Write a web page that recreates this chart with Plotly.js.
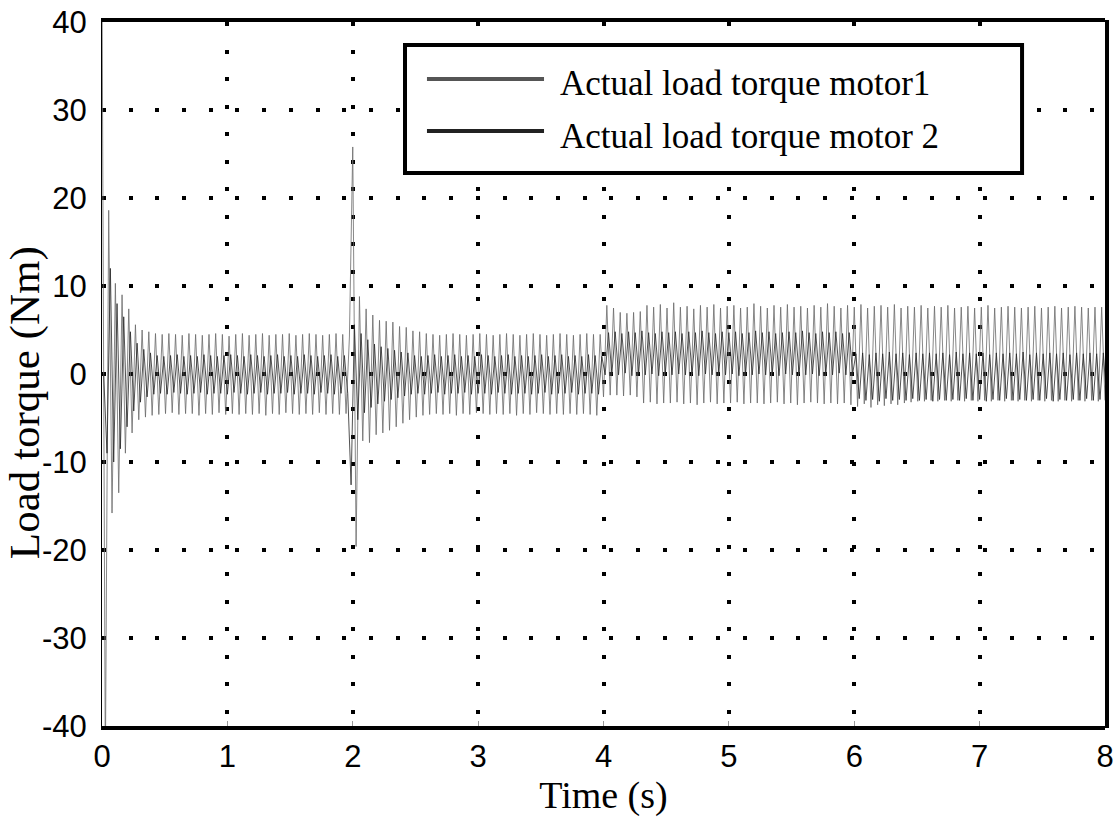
<!DOCTYPE html>
<html>
<head>
<meta charset="utf-8">
<script src="https://cdn.plot.ly/plotly-3.0.1.min.js"></script>
<style>html,body{margin:0;padding:0;background:#fff;}#chart{width:1117px;height:828px;}</style>
</head>
<body>
<div id="chart"></div>
<script>
// Sampling period of the recorded signals (s)
const sampleStep = 8 / 300;

// Actual load torque motor1 (Nm), one value per sample
const motor1 = [
  45, -45, 18.6, -15.8, 10.3, -13.5, 9.0, -9.0, 7.4, -6.7, 5.6, -5.2, 5.0, -4.9, 4.8, -4.7, 4.6, -4.6, 4.5, -4.5, 4.6, -4.4,
  4.5, -4.6, 4.4, -4.5, 4.6, -4.5, 4.5, -4.7, 4.4, -4.5, 4.5, -4.6,
  4.6, -4.4, 4.5, -4.6, 4.3, -4.5, 4.5, -4.6, 4.6, -4.5, 4.4, -4.6,
  4.5, -4.5, 4.6, -4.7, 4.4, -4.5, 4.5, -4.6, 4.5, -4.4, 4.6, -4.5,
  4.4, -4.6, 4.5, -4.5, 4.6, -4.6, 4.5, -4.4, 4.4, -4.6, 4.5, -4.5,
  4.6, -4.6, 4.5, -4.5, 4.2,
  25.8, -19.6, 8.8, -7.6, 7.4, -7.8, 6.7, -6.9, 6.1, -6.7, 6.0, -6.4, 5.9, -6.0, 5.4, -5.6, 5.3, -5.2, 4.9, -4.9, 4.8, -4.7, 4.6,
  -4.6, 4.5, -4.5, 4.4, -4.6, 4.5, -4.5, 4.6, -4.7, 4.5, -4.5, 4.4,
  -4.6, 4.5, -4.4, 4.6, -4.5, 4.5, -4.6, 4.4, -4.5, 4.5, -4.6, 4.6,
  -4.5, 4.5, -4.7, 4.4, -4.5, 4.5, -4.6, 4.6, -4.4, 4.5, -4.5, 4.4,
  -4.6, 4.5, -4.5, 4.6, -4.6, 4.5, -4.5, 4.4, -4.6, 4.5, -4.5, 4.6,
  -4.6, 4.5, -4.7, 4.5,
  -2.6, 7.8, -2.4, 7.5, -2.4, 7.0, -2.5, 6.9, -2.4, 7.0, -2.6, 7.1,
  -3.3, 7.8, -3.2, 7.6, -3.4, 7.9, -3.3, 7.5, -3.3, 8.1, -3.2, 7.6,
  -3.4, 7.7, -3.3, 7.4, -3.5, 7.8, -3.3, 7.6, -3.2, 7.9, -3.4, 7.5,
  -3.3, 7.7, -3.3, 7.8, -3.2, 7.5, -3.4, 7.6, -3.3, 8.0, -3.3, 7.7,
  -3.4, 7.5, -3.3, 7.8, -3.2, 7.6, -3.4, 7.9, -3.3, 7.6, -3.5, 7.7,
  -3.3, 7.5, -3.2, 7.8, -3.3, 7.6, -3.4, 8.0, -3.3, 7.7, -3.4, 7.5,
  -3.3, 7.8, -3.5, 7.6, -3.7, 7.9, -3.4, 7.5, -3.8, 7.7, -3.5, 7.8,
  -3.6, 7.6, -3.4, 7.9, -3.5, 7.5, -3.3, 7.7, -3.2, 7.6, -3.1, 7.8,
  -3.1, 7.5, -3.0, 7.7, -3.1, 7.6, -3.0, 7.8, -3.1, 7.5, -3.0, 7.6,
  -3.1, 7.7, -3.0, 7.5, -3.1, 7.6, -3.0, 7.8, -3.1, 7.5, -3.0, 7.6,
  -3.1, 7.7, -3.0, 7.6, -3.1, 7.5, -3.0, 7.6, -3.1, 7.7, -3.0, 7.5,
  -3.1, 7.6, -3.0, 7.7, -3.1, 7.5, -3.0, 7.6, -3.1, 7.7, -3.0, 7.6,
  -3.1, 7.5, -3.0, 7.6, -3.1, 7.6, -3.0
];

// Actual load torque motor 2 (Nm), one value per sample (sampled half a step later)
const motor2 = [
  0, -9.0, 12.0, -10.0, 8.0, -8.5, 6.5, -6.0, 4.8, -4.2, 3.5, -3.2, 2.8, -2.6, 2.4, -2.3,
  2.1, -2.2, 2.0, -2.3, 2.1, -2.1, 2.2, -2.2, 2.0, -2.3, 2.1, -2.2,
  2.0, -2.1, 2.2, -2.3, 2.1, -2.2, 2.0, -2.2, 2.1, -2.3, 2.2, -2.1,
  2.1, -2.2, 2.0, -2.3, 2.2, -2.2, 2.1, -2.1, 2.0, -2.3, 2.1, -2.2,
  2.2, -2.2, 2.0, -2.1, 2.1, -2.3, 2.0, -2.2, 2.2, -2.2, 2.1, -2.3,
  2.0, -2.1, 2.1, -2.2, 2.2, -2.3, 2.0, -2.2, 2.1, -2.2,
  -12.6, 5.6, -5.2, 4.6, -4.4, 3.9, -3.8, 3.4, -3.4, 3.1, -3.1, 2.9, -2.9, 2.7, -2.7, 2.5, -2.5, 2.4, -2.3,
  2.1, -2.2, 2.0, -2.3, 2.1, -2.2, 2.2, -2.1, 2.0, -2.3, 2.1, -2.2,
  2.2, -2.2, 2.0, -2.1, 2.1, -2.3, 2.0, -2.2, 2.2, -2.2, 2.1, -2.3,
  2.0, -2.1, 2.1, -2.2, 2.2, -2.3, 2.0, -2.2, 2.1, -2.2, 2.0, -2.3,
  2.1, -2.2, 2.2, -2.1, 2.0, -2.3, 2.1, -2.2, 2.2, -2.2, 2.0, -2.1,
  2.1, -2.3, 2.0, -2.2, 2.2, -2.2, 2.1, -2.3, 2.0,
  -0.1, 4.7, 0.0, 4.8, -0.1, 4.6, 0.1, 4.8, -0.2, 4.7, 0.0, 4.9,
  -0.1, 4.7, 0.0, 4.6, -0.2, 4.8, 0.1, 4.7, -0.1, 4.8, 0.0, 4.6,
  -0.1, 4.8, 0.0, 4.7, -0.2, 4.9, 0.0, 4.7, -0.1, 4.6, 0.1, 4.8,
  -0.1, 4.7, 0.0, 4.8, -0.2, 4.6, 0.0, 4.7, -0.1, 4.9, 0.0, 4.7,
  -0.1, 4.8, 0.1, 4.6, -0.2, 4.7, 0.0, 4.8, -0.1, 4.7, 0.0, 4.9,
  -0.1, 4.7, 0.0, 4.6, -0.2, 4.8, 0.0, 4.7, -0.1, 4.8, 0.1, 4.6,
  -0.1, 4.7, 0.0,
  2.3, -2.8, 2.4, -3.0, 2.2, -2.9, 2.4, -3.1, 2.3, -2.8, 2.5, -3.0,
  2.3, -2.9, 2.4, -3.0, 2.2, -2.8, 2.4, -3.0, 2.3, -2.9, 2.4, -3.1,
  2.3, -2.9, 2.4, -3.0, 2.2, -2.9, 2.5, -3.0, 2.3, -2.8, 2.4, -3.0,
  2.3, -2.9, 2.4, -3.1, 2.2, -2.9, 2.4, -3.0, 2.3, -2.8, 2.4, -3.0,
  2.3, -2.9, 2.5, -3.0, 2.2, -2.9, 2.4, -3.0, 2.3, -2.8, 2.4, -3.1,
  2.3, -2.9, 2.4, -3.0, 2.2, -2.9, 2.4, -3.0, 2.3, -2.8, 2.4, -3.0,
  2.3, -2.9, 2.4, -3.0
];

// Axis ticks
const xTickValues = [0, 1, 2, 3, 4, 5, 6, 7, 8];
const xTickLabels = ['0', '1', '2', '3', '4', '5', '6', '7', '8'];
const yTickValues = [-40, -30, -20, -10, 0, 10, 20, 30, 40];
const yTickLabels = ['-40', '-30', '-20', '-10', '0', '10', '20', '30', '40'];

const seriesNames = ['Actual load torque motor1', 'Actual load torque motor 2'];
const seriesColors = ['#6a6a6a', '#262626'];
const legendColors = ['#555555', '#222222'];

const time1 = motor1.map((_, i) => i * sampleStep);
const time2 = motor2.map((_, i) => (i + 0.5) * sampleStep);

const traces = [
  { x: time1, y: motor1, type: 'scatter', mode: 'lines', name: seriesNames[0],
    line: { color: seriesColors[0], width: 0.8 }, showlegend: false },
  { x: time2, y: motor2, type: 'scatter', mode: 'lines', name: seriesNames[1],
    line: { color: seriesColors[1], width: 0.8 }, showlegend: false }
];

const serif = 'Liberation Serif, Times New Roman, serif';
const sans = 'Liberation Sans, Arial, sans-serif';

const layout = {
  width: 1117, height: 828,
  margin: { l: 102, r: 12, t: 22, b: 102, pad: 0 },
  paper_bgcolor: '#ffffff', plot_bgcolor: '#ffffff',
  showlegend: false,
  xaxis: {
    range: [0, 8], tickvals: xTickValues, ticktext: xTickLabels,
    showgrid: true, gridcolor: '#000', gridwidth: 4, griddash: '4px,23.5px',
    zeroline: false, showline: true, linecolor: '#000', linewidth: 4, mirror: true,
    ticks: 'inside', ticklen: 5, tickcolor: '#999', tickwidth: 1,
    tickfont: { family: sans, size: 31, color: '#000' },
    title: { text: 'Time (s)', font: { family: serif, size: 38, color: '#000' }, standoff: 6 },
    automargin: false
  },
  yaxis: {
    range: [-40, 40], tickvals: yTickValues, ticktext: yTickLabels,
    showgrid: true, gridcolor: '#000', gridwidth: 4, griddash: '4px,22.7px',
    zeroline: false, showline: true, linecolor: '#000', linewidth: 1, mirror: false,
    ticks: '', ticklabelstandoff: 8,
    tickfont: { family: sans, size: 31, color: '#000' },
    automargin: false
  },
  shapes: [
    { type: 'line', xref: 'paper', yref: 'paper', x0: 1.002, x1: 1.002, y0: -0.003, y1: 1.003,
      line: { color: '#000', width: 4 } },
    { type: 'rect', xref: 'paper', yref: 'paper', x0: 0.3021, x1: 0.9173, y0: 0.7855, y1: 0.9673,
      fillcolor: '#fff', line: { color: '#000', width: 4 }, layer: 'above' },
    { type: 'line', xref: 'paper', yref: 'paper', x0: 0.324, x1: 0.4407, y0: 0.919, y1: 0.919,
      line: { color: legendColors[0], width: 4 }, layer: 'above' },
    { type: 'line', xref: 'paper', yref: 'paper', x0: 0.324, x1: 0.4407, y0: 0.8452, y1: 0.8452,
      line: { color: legendColors[1], width: 4 }, layer: 'above' }
  ],
  annotations: [
    { xref: 'paper', yref: 'paper', x: 0.4546, y: 0.913, xanchor: 'left', yanchor: 'middle',
      text: seriesNames[0], showarrow: false, font: { family: serif, size: 35, color: '#000' } },
    { xref: 'paper', yref: 'paper', x: 0.4546, y: 0.837, xanchor: 'left', yanchor: 'middle',
      text: seriesNames[1], showarrow: false, font: { family: serif, size: 35, color: '#000' } },
    { xref: 'paper', yref: 'paper', x: -0.0768, y: 0.46, xanchor: 'center', yanchor: 'middle',
      textangle: -90, text: 'Load torque (Nm)', showarrow: false,
      font: { family: serif, size: 43, color: '#000' } }
  ]
};

Plotly.newPlot('chart', traces, layout, { staticPlot: true, displayModeBar: false });
</script>
</body>
</html>
